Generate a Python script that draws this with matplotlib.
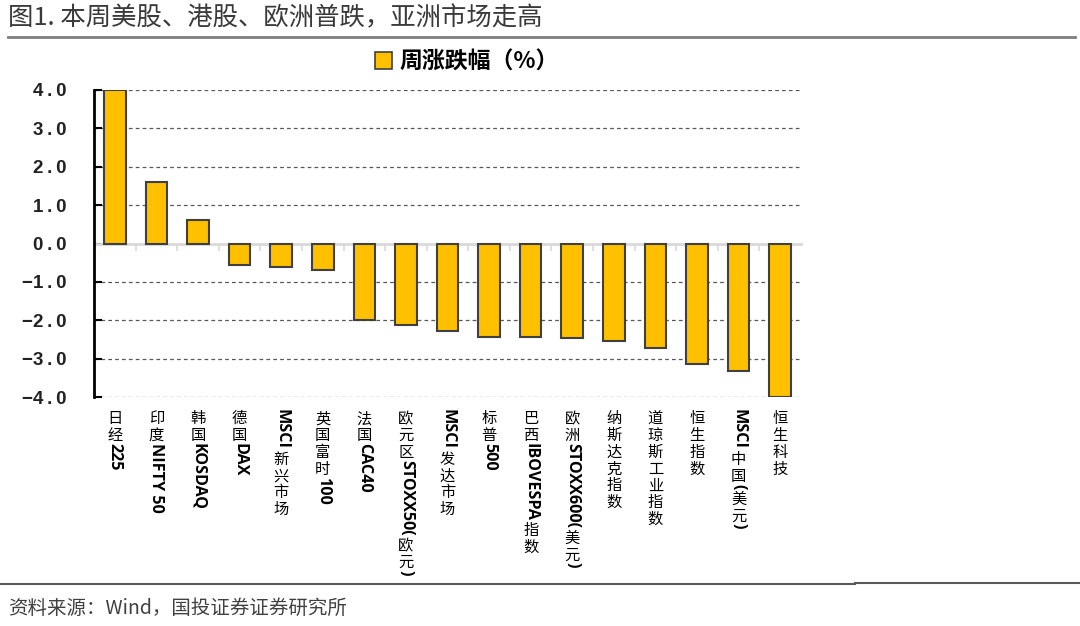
import matplotlib
matplotlib.use("Agg")
import matplotlib.pyplot as plt
from matplotlib.font_manager import FontProperties
from matplotlib.lines import Line2D
from matplotlib.patches import Patch

plt.rcParams['font.family'] = ['Noto Sans CJK SC', 'DejaVu Sans']

categories = ["日经225", "印度NIFTY 50", "韩国KOSDAQ", "德国DAX", "MSCI新兴市场", "英国富时100",
              "法国CAC40", "欧元区STOXX50(欧元)", "MSCI发达市场", "标普500", "巴西IBOVESPA指数",
              "欧洲STOXX600(美元)", "纳斯达克指数", "道琼斯工业指数", "恒生指数", "MSCI中国(美元)", "恒生科技"]
values = [4.0, 1.6, 0.62, -0.55, -0.6, -0.68, -2.0, -2.13, -2.28, -2.44, -2.44, -2.47,
          -2.54, -2.73, -3.13, -3.32, -4.0]
yticks = [4.0, 3.0, 2.0, 1.0, 0.0, -1.0, -2.0, -3.0, -4.0]
ytick_labels = ["4.0", "3.0", "2.0", "1.0", "0.0", "\u22121.0", "\u22122.0", "\u22123.0", "\u22124.0"]
series_name = "周涨跌幅（%）"
title = "图1. 本周美股、港股、欧洲普跌，亚洲市场走高"
source = "资料来源：Wind，国投证券证券研究所"

W, H, DPI = 1080, 626, 100
fig = plt.figure(figsize=(W / DPI, H / DPI), dpi=DPI)
fig.patch.set_facecolor("white")

n = len(categories)
left_px, right_px, top_px, bot_px = 94, 801, 90, 397
ax = fig.add_axes([left_px / W, 1 - bot_px / H, (right_px - left_px) / W, (bot_px - top_px) / H])

xs = list(range(n))
ax.bar(xs, values, width=0.52, color="#FFC000", edgecolor="#404040", linewidth=1.5, zorder=3)
ax.set_xlim(-0.5, n - 0.5)
ax.set_ylim(-4.0, 4.0)

# spines
for s in ["top", "right"]:
    ax.spines[s].set_visible(False)
ax.spines["left"].set_linewidth(2)
ax.spines["left"].set_color("black")
ax.spines["bottom"].set_position(("data", 0))
ax.spines["bottom"].set_color("#D9D9D9")
ax.spines["bottom"].set_linewidth(2)
ax.spines["bottom"].set_zorder(2)

ax.set_yticks(yticks)
spaced = [s.replace(".", "\u2009.\u2009") for s in ytick_labels]
ax.set_yticklabels(spaced)
ax.tick_params(axis="y", direction="in", length=6, width=1.5, color="black", pad=20)
for lab in ax.get_yticklabels():
    lab.set_fontfamily(["Liberation Sans", "DejaVu Sans"])
    lab.set_fontweight("bold")
    lab.set_fontsize(13.5)
    lab.set_color("#222222")

ax.set_xticks([i + 0.5 for i in range(n - 1)])
ax.set_xticklabels([])
ax.tick_params(axis="x", direction="out", length=5, width=1.2, color="#D9D9D9")

ax.yaxis.grid(True, linestyle=(0, (3, 2.5)), color="#595959", linewidth=0.9)
ax.set_axisbelow(True)
for gl, t in zip(ax.get_ygridlines(), ax.get_yticks()):
    if abs(t) < 1e-9:
        gl.set_visible(False)

# vertical category labels: CJK upright stacked, latin runs rotated
renderer = fig.canvas.get_renderer()
fs = 11
fp_cjk = FontProperties(family="Noto Sans CJK SC", size=fs)
fp_lat = FontProperties(family="Open Sans", size=11.6, weight="bold")
PT = 72 / DPI
cjk_slot = 16.8 * PT


def width_pt(s, fp):
    t = fig.text(0, 0, s, fontproperties=fp)
    w = t.get_window_extent(renderer).width * PT
    t.remove()
    return w


def split_runs(s):
    runs = []
    buf = ""
    for ch in s:
        if ord(ch) > 0x2E80:
            if buf:
                runs.append(("lat", buf))
                buf = ""
            runs.append(("cjk", ch))
        else:
            buf += ch
    if buf:
        runs.append(("lat", buf))
    return runs


start_pt = 12 * PT
trans = ax.get_xaxis_transform()
for i, lab in enumerate(categories):
    off = start_pt
    for kind, s in split_runs(lab):
        if kind == "cjk":
            adv = cjk_slot
            base = off + (cjk_slot - fs) / 2 + 0.88 * fs
            ax.annotate(s, xy=(i, 0), xycoords=trans, xytext=(0, -base),
                        textcoords="offset points", ha="center", va="baseline",
                        fontproperties=fp_cjk, color="black", annotation_clip=False)
        else:
            adv = width_pt(s, fp_lat) + 0.5
            ax.annotate(s, xy=(i, 0), xycoords=trans, xytext=(0, -(off + adv / 2)),
                        textcoords="offset points", ha="center", va="center", rotation=-90,
                        rotation_mode="anchor", fontproperties=fp_lat, color="black",
                        annotation_clip=False)
        off += adv

# legend
handle = Patch(facecolor="#FFC000", edgecolor="#404040", linewidth=1.2)
fig.legend([handle], [series_name], loc="center left", bbox_to_anchor=(375 / W, 1 - 62 / H),
           frameon=False, handlelength=0.75, handleheight=0.75, handletextpad=0.3,
           borderpad=0, borderaxespad=0,
           prop=FontProperties(family="Noto Sans CJK SC", size=16.5, weight="bold"))

# title and rules
fig.text(8 / W, 1 - 18 / H, title, ha="left", va="center", fontsize=18.3, color="#3a3a3a",
         fontfamily=["Noto Sans CJK SC", "DejaVu Sans"], fontweight="light")
fig.add_artist(Line2D([8 / W, 1075 / W], [1 - 37 / H, 1 - 37 / H], color="#7F7F7F", linewidth=2))
fig.add_artist(Line2D([0 / W, 855 / W], [1 - 584 / H, 1 - 584 / H], color="#595959", linewidth=1.5))
fig.add_artist(Line2D([855 / W, 1080 / W], [1 - 583 / H, 1 - 583 / H], color="#595959", linewidth=1.5))
fig.text(8 / W, 1 - 608 / H, source, ha="left", va="center", fontsize=14, color="#404040",
         fontfamily=["Noto Sans CJK SC", "DejaVu Sans"], style="italic", fontweight="light")

fig.savefig("out.png", dpi=DPI, facecolor="white")
